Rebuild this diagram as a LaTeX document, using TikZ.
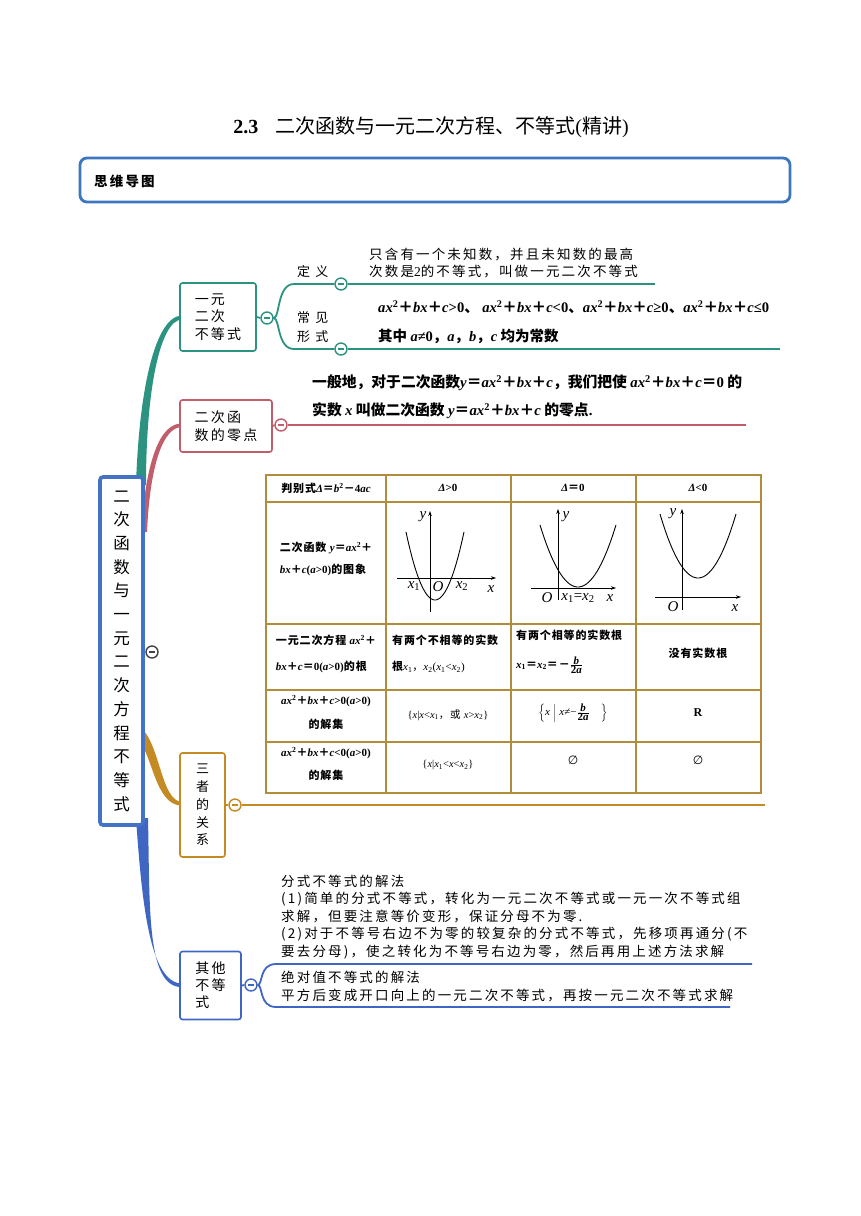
\documentclass[tikz,border=0pt]{standalone}
\usepackage{fontspec}
\setmainfont{Noto Sans CJK SC}
\newfontfamily\tm{Liberation Serif}
\newfontfamily\kai[LetterSpace=16]{Noto Sans CJK SC}
\newfontfamily\kaiw[LetterSpace=40]{Noto Sans CJK SC}
\newfontfamily\tb[LetterSpace=8]{Noto Sans CJK SC}
\newfontfamily\dv{DejaVu Sans}
\usetikzlibrary{arrows.meta}
\definecolor{cTeal}{HTML}{2C9381}
\definecolor{cRed}{HTML}{C05F6B}
\definecolor{cGold}{HTML}{C48A23}
\definecolor{cBlue}{HTML}{4066C4}
\definecolor{cMain}{HTML}{4472C4}
\definecolor{cHead}{HTML}{3C76BF}
\definecolor{cTab}{HTML}{B08D3C}
\definecolor{cGray}{HTML}{444444}
\newcommand\MI[1]{{\tm\itshape #1}}
\newcommand\PL{＋}
\newcommand\EQ{＝}
\newcommand\QF{\MI{ax}\textsuperscript{\tm 2}\PL\MI{bx}\PL\MI{c}}
\tikzset{
  coll/.style={circle,draw=#1,fill=white,line width=1.4pt,minimum size=12pt,inner sep=0pt,
    path picture={\draw[#1,line width=1.4pt] ([xshift=-3.2pt]path picture bounding box.center)--([xshift=3.2pt]path picture bounding box.center);}},
  mbox/.style={draw=#1,fill=white,line width=1.6pt,rounded corners=2.5pt,inner sep=0pt,align=left},
  boxfont/.style={font=\fontsize{14}{17.5}\selectfont\kai},
  twig/.style={draw=#1,line width=1.8pt},
  txt/.style={inner sep=0pt,align=left},
  tab/.style={inner sep=0pt,align=center,font=\fontsize{11}{14}\selectfont\tb\bfseries},
  axis/.style={line width=0.8pt,-{Stealth[length=5pt,width=3.5pt]}},
  para/.style={line width=0.9pt,smooth},
  lab/.style={inner sep=0pt,font=\fontsize{15}{15}\selectfont\tm\itshape}
}
\begin{document}
\begin{tikzpicture}[x=1pt,y=-1pt]
\useasboundingbox (0,0) rectangle (860,1216);
\fill[white] (0,0) rectangle (860,1216);

% title and header
\node[inner sep=0pt] (title) at (431,127) {\fontsize{20}{24}\selectfont{\tm\bfseries 2.3}\hspace{17pt}二次函数与一元二次方程、不等式{\tm(}精讲{\tm)}};
\node[draw=cHead,line width=2.8pt,rounded corners=7pt,minimum width=710pt,minimum height=44pt] (hdr) at (435,180) {};
\node[txt,anchor=west] (hdrtxt) at (94,181) {\fontsize{13.5}{16}\selectfont\kai\bfseries 思维导图};

% main branches (tapered)
\fill[cTeal] (136,485) .. controls (139,390) and (155,316) .. (182,315.5) -- (182,319.5) .. controls (160,320) and (146,390) .. (146,485) -- cycle;
\fill[cRed] (141,532) .. controls (146,460) and (160,423) .. (182,423.5) -- (182,427) .. controls (163,427) and (150,465) .. (147,532) -- cycle;
\fill[cGold] (138,726) .. controls (160,738) and (160,801) .. (182,802) -- (182,805.5) .. controls (155,806) and (152,752) .. (138,740) -- cycle;
\fill[cBlue] (136,818) .. controls (142,905) and (150,983) .. (182,983.5) -- (182,987) .. controls (146,988) and (150,905) .. (148,818) -- cycle;

% main node
\node[draw=cMain,fill=white,line width=3.6pt,rounded corners=3pt,minimum width=43pt,minimum height=348pt,inner sep=0pt,align=center,font=\fontsize{16.5}{23.7}\selectfont] (main) at (121.5,651)
 {二\\次\\函\\数\\与\\一\\元\\二\\次\\方\\程\\不\\等\\式};
\node[coll=cGray] (cm) at (152,652) {};

% branch 1
\node[mbox=cTeal,minimum width=76pt,minimum height=68pt,boxfont] (b1) at (218,317) {一元\\二次\\不等式};
\node[coll=cTeal] (c1) at (267,318) {};
\draw[twig=cTeal] (b1.east) -- (c1.west);
\node[coll=cTeal] (cdy) at (341,284) {};
\node[coll=cTeal] (cxs) at (341,349) {};
\coordinate (e1) at (655,284);
\coordinate (e2) at (780,349);
\draw[twig=cTeal] (c1.east) .. controls (280,318) and (277,284) .. (294,284) -- (cdy.west);
\draw[twig=cTeal] (cdy.east) -- (e1);
\draw[twig=cTeal] (c1.east) .. controls (280,318) and (277,349) .. (294,349) -- (cxs.west);
\draw[twig=cTeal] (cxs.east) -- (e2);
\node[txt,anchor=west,font=\fontsize{13}{16}\selectfont\kaiw] (dy) at (297,272) {定义};
\node[txt,anchor=west,font=\fontsize{13}{19}\selectfont\kaiw] (cjxs) at (297,327.5) {常见\\形式};
\node[txt,anchor=west,font=\fontsize{13.5}{17}\selectfont\kai] (def) at (369,263.5) {只含有一个未知数，并且未知数的最高\\次数是{\tm 2}的不等式，叫做一元二次不等式};
\node[txt,anchor=west,font=\fontsize{14.6}{16}\selectfont\bfseries] (forms) at (378,307) {\QF{\tm >0}、\ \QF{\tm <0}、\QF{\tm ≥0}、\QF{\tm ≤0}};
\node[txt,anchor=west,font=\fontsize{14.5}{16}\selectfont\bfseries] (cond) at (378,336) {其中 \MI{a}{\tm ≠0}，\MI{a}，\MI{b}，\MI{c} 均为常数};

% branch 2
\node[mbox=cRed,minimum width=92pt,minimum height=52pt,boxfont] (b2) at (226,426) {二次函\\数的零点};
\node[coll=cRed] (c2) at (281,425) {};
\coordinate (e3) at (746,425);
\draw[twig=cRed] (b2.east) -- (c2.west);
\draw[twig=cRed] (c2.east) -- (e3);
\node[txt,anchor=west,font=\fontsize{14.8}{28}\selectfont\bfseries] (zero) at (312,397) {一般地，对于二次函数\MI{y}\EQ\QF，我们把使 \QF\EQ{\tm 0} 的\\实数 \MI{x} 叫做二次函数 \MI{y}\EQ\QF{} 的零点{\tm .}};

% branch 3
\node[mbox=cGold,minimum width=45pt,minimum height=104pt,align=center,font=\fontsize{13}{17.8}\selectfont] (b3) at (202.5,805) {三\\者\\的\\关\\系};
\node[coll=cGold] (c3) at (235,805) {};
\coordinate (e4) at (765,805);
\draw[twig=cGold] (b3.east) -- (c3.west);
\draw[twig=cGold] (c3.east) -- (e4);

% table
\draw[cTab,line width=2pt] (266,475) rectangle (761,793);
\foreach \yy in {502,624,690,742} \draw[cTab,line width=1.6pt] (266,\yy) -- (761,\yy);
\foreach \xx in {386,511,636} \draw[cTab,line width=1.6pt] (\xx,475) -- (\xx,793);

\node[tab] (t00) at (326,488) {判别式{\tm\bfseries\itshape Δ}\EQ\MI{b}\textsuperscript{\tm 2}－{\tm 4}\MI{ac}};
\node[tab] (t01) at (448,488) {{\tm\itshape Δ}{\tm >0}};
\node[tab] (t02) at (573,488) {{\tm\itshape Δ}\EQ{\tm 0}};
\node[tab] (t03) at (698,488) {{\tm\itshape Δ}{\tm <0}};

\node[tab,align=left,font=\fontsize{11}{22}\selectfont\tb\bfseries] (t10) at (326,559) {二次函数 \MI{y}\EQ\MI{ax}\textsuperscript{\tm 2}\PL\\\MI{bx}\PL\MI{c}{\tm (}\MI{a}{\tm >0)}的图象};

% graph 1
\draw[axis] (397,578) -- (496,578);
\draw[axis] (430,612) -- (430,511);
\draw[para] plot[domain=406:464,samples=40] (\x,{600-0.081*(\x-435)^2});
\node[lab] (g1y) at (423,517) {y};
\node[lab] (g1x1) at (414,586) {x\textsubscript{\tm\upshape 1}};
\node[lab] (g1o) at (438,587) {O};
\node[lab] (g1x2) at (462,586) {x\textsubscript{\tm\upshape 2}};
\node[lab] (g1x) at (491,589) {x};
% graph 2
\draw[axis] (531,588) -- (616,588);
\draw[axis] (558,600) -- (558,509);
\draw[para] plot[domain=540:616,samples=40] (\x,{587-0.043*(\x-578)^2});
\node[lab] (g2y) at (566,517) {y};
\node[lab] (g2o) at (547,598) {O};
\node[lab] (g2x12) at (578,598) {x\textsubscript{\tm\upshape 1}{\upshape =}x\textsubscript{\tm\upshape 2}};
\node[lab] (g2x) at (610,598) {x};
% graph 3
\draw[axis] (655,597) -- (741,597);
\draw[axis] (682,610) -- (682,509);
\draw[para] plot[domain=660:736,samples=40] (\x,{578-0.0443*(\x-698)^2});
\node[lab] (g3y) at (673,514) {y};
\node[lab] (g3o) at (673,607) {O};
\node[lab] (g3x) at (735,608) {x};

\node[tab,align=left,font=\fontsize{11}{26}\selectfont\tb\bfseries] (t20) at (326,654) {一元二次方程 \MI{ax}\textsuperscript{\tm 2}\PL\\\MI{bx}\PL\MI{c}\EQ{\tm 0(}\MI{a}{\tm >0)}的根};
\node[tab,anchor=west,align=left,font=\fontsize{11}{26}\selectfont\tb\bfseries] (t21) at (392,654) {有两个不相等的实数\\根{\mdseries\MI{x}\textsubscript{\tm 1}，\MI{x}\textsubscript{\tm 2}{\tm (}\MI{x}\textsubscript{\tm 1}{\tm <}\MI{x}\textsubscript{\tm 2}{\tm )}}};
\node[tab,anchor=west] (t22a) at (516,635) {有两个相等的实数根};
\node[tab,anchor=west] (t22b) at (516,665) {\MI{x}\textsubscript{\tm 1}\EQ\MI{x}\textsubscript{\tm 2}\EQ－$\frac{\mbox{\tm\bfseries\itshape b}}{\mbox{\tm\bfseries 2\itshape a}}$};
\node[tab] (t23) at (698,653) {没有实数根};

\node[tab,font=\fontsize{11}{24}\selectfont\tb\bfseries] (t30) at (326,712) {\QF{\tm >0(}\MI{a}{\tm >0)}\\的解集};
\node[tab,font=\fontsize{10.5}{14}\selectfont\tb] (t31) at (448,715) {{\tm\{}\MI{x}{\tm |}\MI{x}{\tm <}\MI{x}\textsubscript{\tm 1}，或 \MI{x}{\tm >}\MI{x}\textsubscript{\tm 2}{\tm\}}};
\node[tab,font=\fontsize{11}{14}\selectfont\tm] (t32) at (573,713) {$\left\{\mbox{\tm\itshape x}\;\middle|\;\mbox{\tm\itshape x{\upshape ≠−}}\frac{\mbox{\tm\bfseries\itshape b}}{\mbox{\tm\bfseries 2\itshape a}}\quad\right\}$};
\node[tab,font=\fontsize{12}{14}\selectfont\tm\bfseries] (t33) at (698,713) {R};

\node[tab,font=\fontsize{11}{23}\selectfont\tb\bfseries] (t40) at (326,763.5) {\QF{\tm <0(}\MI{a}{\tm >0)}\\的解集};
\node[tab,font=\fontsize{10.5}{14}\selectfont\tb] (t41) at (448,765) {{\tm\{}\MI{x}{\tm |}\MI{x}\textsubscript{\tm 1}{\tm <}\MI{x}{\tm <}\MI{x}\textsubscript{\tm 2}{\tm\}}};
\node[tab,font=\fontsize{12}{14}\selectfont\dv] (t42) at (573,760) {∅};
\node[tab,font=\fontsize{12}{14}\selectfont\dv] (t43) at (698,760) {∅};

% branch 4
\node[mbox=cBlue,minimum width=61pt,minimum height=68pt,font=\fontsize{14}{17}\selectfont\kai] (b4) at (210.5,985.5) {其他\\不等\\式};
\node[coll=cBlue] (c4) at (251,985) {};
\coordinate (e5) at (752,964);
\coordinate (e6) at (730,1007);
\draw[twig=cBlue] (b4.east) -- (c4.west);
\draw[twig=cBlue] (c4.east) .. controls (263,985) and (259,964) .. (276,964) -- (e5);
\draw[twig=cBlue] (c4.east) .. controls (263,985) and (259,1007) .. (276,1007) -- (e6);
\node[txt,anchor=west,font=\fontsize{13.5}{17.5}\selectfont\kai] (frac) at (281,917) {分式不等式的解法\\(1)简单的分式不等式，转化为一元二次不等式或一元一次不等式组\\求解，但要注意等价变形，保证分母不为零.\\(2)对于不等号右边不为零的较复杂的分式不等式，先移项再通分(不\\要去分母)，使之转化为不等号右边为零，然后再用上述方法求解};
\node[txt,anchor=west,font=\fontsize{13.5}{17.5}\selectfont\kai] (abs) at (281,986.5) {绝对值不等式的解法\\平方后变成开口向上的一元二次不等式，再按一元二次不等式求解};
\end{tikzpicture}
\end{document}
